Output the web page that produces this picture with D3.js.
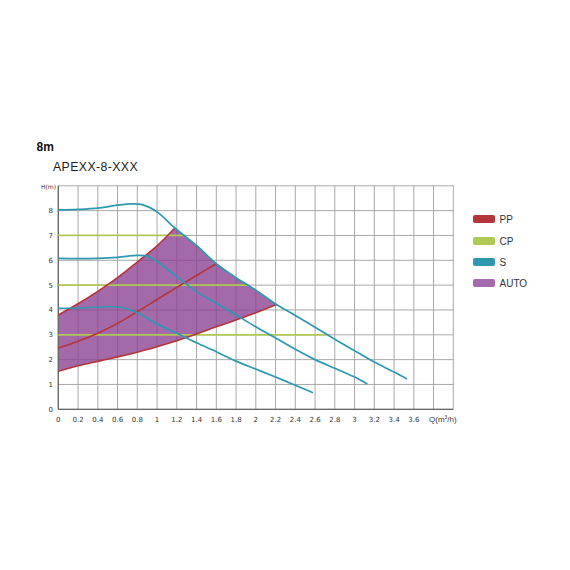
<!DOCTYPE html>
<html><head><meta charset="utf-8">
<script src="https://cdn.jsdelivr.net/npm/d3@7"></script>
<style>body{margin:0;background:#fff}svg{display:block}</style>
</head><body><svg id="c" width="570" height="570"></svg>
<script>
// ---- data ----
const xTicks = [0,0.2,0.4,0.6,0.8,1,1.2,1.4,1.6,1.8,2,2.2,2.4,2.6,2.8,3,3.2,3.4,3.6];
const yTicks = [0,1,2,3,4,5,6,7,8];
const legendLabels = ["PP","CP","S","AUTO"];

const s1Q = [0,0.2,0.4,0.6,0.75,0.85,1.0,1.18,1.4,1.6,1.8,2.0,2.21,2.4,2.6,2.8,3.0,3.2,3.4,3.53];
const s1H = [8.03,8.05,8.1,8.22,8.27,8.24,7.95,7.3,6.6,5.86,5.3,4.8,4.22,3.78,3.3,2.82,2.36,1.9,1.5,1.22];
const s2Q = [0,0.2,0.4,0.6,0.8,0.9,1.0,1.2,1.4,1.6,1.8,2.0,2.2,2.4,2.6,2.8,3.0,3.13];
const s2H = [6.08,6.07,6.08,6.12,6.2,6.17,5.95,5.34,4.74,4.27,3.8,3.32,2.87,2.42,2.0,1.65,1.3,1.02];
const s3Q = [0,0.2,0.4,0.55,0.65,0.8,1.0,1.2,1.4,1.6,1.8,2.0,2.2,2.4,2.58];
const s3H = [4.07,4.08,4.11,4.13,4.1,3.89,3.44,3.06,2.68,2.32,1.94,1.62,1.3,0.97,0.67];

const ppTopQ = [0,0.2,0.4,0.6,0.8,1.0,1.18];
const ppTopH = [3.8,4.25,4.75,5.3,5.93,6.58,7.3];
const ppMidQ = [0,0.2,0.4,0.6,0.8,1.0,1.2,1.4,1.6];
const ppMidH = [2.47,2.74,3.06,3.46,3.93,4.42,4.91,5.39,5.86];
const ppBotQ = [0,0.2,0.4,0.6,0.8,1.0,1.2,1.4,1.6,1.8,2.0,2.21];
const ppBotH = [1.53,1.75,1.93,2.11,2.3,2.52,2.76,3.03,3.32,3.6,3.89,4.22];

const cpH = [3,5,7];
const cpEndQ = [2.71,1.93,1.29];

// ---- chart ----
const svg = d3.select("#c");
const x = d3.scaleLinear().domain([0,4]).range([58.3,453.3]);
const y = d3.scaleLinear().domain([0,9]).range([409.3,185.8]);
const colS = "#2e98b0", colPP = "#b3343b", colCP = "#b0c854", colAuto = "#a46aab";
const zip = (q,h) => q.map((v,i)=>[v,h[i]]);
const line = d3.line().x(d=>x(d[0])).y(d=>y(d[1])).curve(d3.curveCatmullRom.alpha(0.5));

// grid
const gx = d3.range(0,4.001,0.2);
svg.append("g").selectAll("line").data(gx).join("line")
  .attr("x1",d=>x(d)).attr("x2",d=>x(d)).attr("y1",y(0)).attr("y2",y(9))
  .attr("stroke","#a8a8a8").attr("stroke-width",1);
svg.append("g").selectAll("line").data(d3.range(0,10,1)).join("line")
  .attr("x1",x(0)).attr("x2",x(4)).attr("y1",d=>y(d)).attr("y2",d=>y(d))
  .attr("stroke","#a8a8a8").attr("stroke-width",1);

// AUTO area: PP top -> S1 segment -> PP bottom (reversed), joined at corners
const topPts = zip(ppTopQ,ppTopH);
const s1Seg = zip(s1Q,s1H).filter(d=>d[0]>=1.18 && d[0]<=2.21);
const lower = zip(ppBotQ,ppBotH).reverse();
const areaD = line(topPts) + "L" + line(s1Seg).slice(1) + "L" + line(lower).slice(1) + "Z";
svg.append("path").attr("d", areaD)
  .attr("fill","#8a3f90").attr("fill-opacity",0.78).attr("stroke","none");

// axes lines
svg.append("line").attr("x1",x(0)).attr("x2",x(0)).attr("y1",y(0)).attr("y2",y(9)).attr("stroke","#666").attr("stroke-width",1.3);
svg.append("line").attr("x1",x(0)).attr("x2",x(4)).attr("y1",y(0)).attr("y2",y(0)).attr("stroke","#666").attr("stroke-width",1.3);

// CP lines
svg.append("g").selectAll("line").data(cpH).join("line")
  .attr("x1",x(0)).attr("x2",(d,i)=>x(cpEndQ[i])).attr("y1",d=>y(d)).attr("y2",d=>y(d))
  .attr("stroke",colCP).attr("stroke-width",1.8);

// PP lines
[[ppTopQ,ppTopH],[ppMidQ,ppMidH],[ppBotQ,ppBotH]].forEach(([q,h])=>{
  svg.append("path").attr("d",line(zip(q,h))).attr("fill","none").attr("stroke",colPP).attr("stroke-width",1.6);
});
// S lines
[[s1Q,s1H],[s2Q,s2H],[s3Q,s3H]].forEach(([q,h])=>{
  svg.append("path").attr("d",line(zip(q,h))).attr("fill","none").attr("stroke",colS).attr("stroke-width",1.7);
});

// tick labels
const tf = "DejaVu Sans, sans-serif";
svg.append("g").selectAll("text").data(xTicks).join("text")
  .attr("x",d=>x(d)).attr("y",422).attr("text-anchor","middle")
  .attr("font-family",tf).attr("font-size",7).attr("fill","#333")
  .text(d=>d3.format("~g")(d));
svg.append("g").selectAll("text").data(yTicks).join("text")
  .attr("x",53).attr("y",d=>y(d)+2.5).attr("text-anchor","end")
  .attr("font-family",tf).attr("font-size",7).attr("fill","#333")
  .text(d=>d);
svg.append("text").attr("x",41).attr("y",y(9)+3).attr("font-family",tf).attr("font-size",6).attr("fill","#333").text("H(m)");
const q = svg.append("text").attr("x",429).attr("y",422).attr("font-family","Liberation Sans, Arial, sans-serif").attr("font-size",8).attr("fill","#333");
q.append("tspan").text("Q(m");
q.append("tspan").attr("font-size",5).attr("dy",-3).text("3");
q.append("tspan").attr("dy",3).text("/h)");

// titles
svg.append("text").attr("x",36.5).attr("y",151).attr("font-family","Liberation Sans, Arial, sans-serif").attr("font-weight","bold").attr("font-size",12).attr("fill","#111").text("8m");
svg.append("text").attr("x",53).attr("y",170.5).attr("font-family","Liberation Sans, Arial, sans-serif").attr("font-size",12.3).attr("letter-spacing",0.4).attr("fill","#222").text("APEXX-8-XXX");

// legend
const legCols = [colPP,colCP,colS,colAuto];
const legY = [219,241,262,283];
const lg = svg.append("g");
legendLabels.forEach((l,i)=>{
  lg.append("rect").attr("x",473).attr("y",legY[i]-4).attr("width",22).attr("height",8).attr("rx",2).attr("fill",legCols[i]);
  lg.append("text").attr("x",499.5).attr("y",legY[i]+3.8).attr("font-family","Liberation Sans, Arial, sans-serif").attr("font-size",10).attr("fill","#333").text(l);
});
</script></body></html>
